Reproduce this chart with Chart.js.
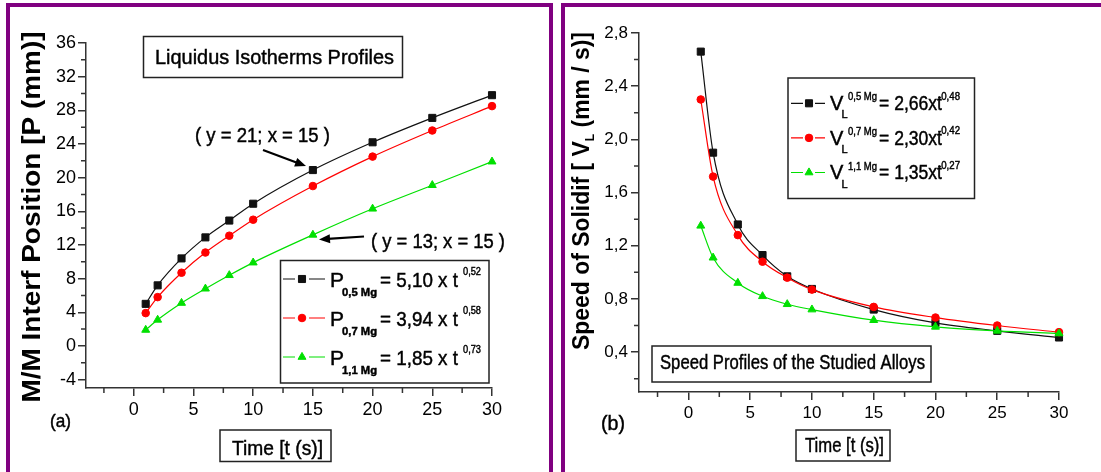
<!DOCTYPE html>
<html>
<head>
<meta charset="utf-8">
<script src="https://cdn.jsdelivr.net/npm/chart.js@4.4.0/dist/chart.umd.min.js"></script>
<style>
  html, body { margin: 0; padding: 0; background: #fff; overflow: hidden; }
  body { width: 1101px; height: 472px; position: relative; }
  canvas { position: absolute; top: 0; }
  #chartA { left: 0; }
  #chartB { left: 560px; }
  .frame { position: absolute; border: 4px solid #800080; box-sizing: border-box; }
  #frameA { left: 6px; top: 3px; width: 547px; height: 520px; }
  #frameB { left: 561px; top: 3px; width: 600px; height: 520px; }
</style>
</head>
<body>
<div class="frame" id="frameA"></div>
<div class="frame" id="frameB"></div>
<canvas id="chartA" width="556" height="472"></canvas>
<canvas id="chartB" width="541" height="472"></canvas>
<script>
// time values (s), shared by both panels
const time = [1, 2, 4, 6, 8, 10, 15, 20, 25, 30];

// (a) liquidus isotherm position P (mm)
const posMg05 = [5.0, 7.2, 10.4, 12.9, 14.9, 16.9, 20.9, 24.2, 27.1, 29.8];
const posMg07 = [3.9, 5.8, 8.7, 11.1, 13.1, 15.0, 19.0, 22.5, 25.6, 28.5];
const posMg11 = [1.9, 3.1, 5.1, 6.8, 8.4, 9.9, 13.2, 16.3, 19.1, 21.9];

// (b) speed of solidification VL (mm/s)
const speedMg05 = [2.66, 1.90, 1.36, 1.13, 0.97, 0.875, 0.72, 0.62, 0.56, 0.51];
const speedMg07 = [2.30, 1.72, 1.28, 1.08, 0.96, 0.87, 0.74, 0.66, 0.60, 0.55];
const speedMg11 = [1.35, 1.11, 0.92, 0.82, 0.76, 0.72, 0.64, 0.59, 0.56, 0.54];

// minor tick positions
const xMinor = [-2.5, 2.5, 7.5, 12.5, 17.5, 22.5, 27.5];
const yMinorA = [-2, 2, 6, 10, 14, 18, 22, 26, 30, 34];
const yMinorB = [0.2, 0.6, 1.0, 1.4, 1.8, 2.2, 2.6];

const FAMILY = '"Liberation Sans", Arial, sans-serif';
const BLACK = '#111111';
const RED = '#ff0000';
const GREEN = '#00e000';
const AXIS = '#333333';

const pts = (ys) => time.map((t, i) => ({ x: t, y: ys[i] }));

function ds(label, ys, color, style, radius, order) {
    return {
        label: label,
        data: pts(ys),
        borderColor: color,
        backgroundColor: color,
        pointBackgroundColor: color,
        pointBorderColor: color,
        pointStyle: style,
        pointRadius: radius,
        pointBorderWidth: 1,
        borderWidth: 1.2,
        cubicInterpolationMode: 'monotone',
        clip: false,
        order: order
    };
}

function fontStr(size, bold) {
    return (bold ? 'bold ' : '') + size + 'px ' + FAMILY;
}

// text at x (left) / baseline y, optionally squeezed to a given width
function txt(ctx, s, x, y, size, opt) {
    opt = opt || {};
    ctx.save();
    ctx.font = fontStr(size, opt.bold);
    ctx.fillStyle = '#000';
    ctx.strokeStyle = '#000';
    ctx.lineWidth = 0.45;
    ctx.textAlign = 'left';
    ctx.textBaseline = 'alphabetic';
    const w = ctx.measureText(s).width;
    const sx = opt.width ? opt.width / w : 1;
    ctx.translate(x, y);
    ctx.scale(sx, 1);
    ctx.fillText(s, 0, 0);
    ctx.strokeText(s, 0, 0);
    ctx.restore();
}

// rotated axis title from pieces, fitted to a given length
function vtitle(ctx, parts, xBase, yCenter, len) {
    ctx.save();
    ctx.translate(xBase, yCenter);
    ctx.rotate(-Math.PI / 2);
    ctx.fillStyle = '#000';
    ctx.textBaseline = 'alphabetic';
    let w = 0;
    parts.forEach(p => { ctx.font = fontStr(p.size, p.bold); p.w = ctx.measureText(p.t).width; w += p.w; });
    ctx.scale(len / w, 1);
    let x = -w / 2;
    parts.forEach(p => { ctx.font = fontStr(p.size, p.bold); ctx.fillText(p.t, x, p.dy || 0); x += p.w; });
    ctx.restore();
}

function box(ctx, x1, y1, x2, y2) {
    ctx.save();
    ctx.strokeStyle = '#222';
    ctx.lineWidth = 1.5;
    ctx.strokeRect(x1, y1, x2 - x1, y2 - y1);
    ctx.restore();
}

function arrow(ctx, x1, y1, x2, y2) {
    const a = Math.atan2(y2 - y1, x2 - x1);
    const hl = 11, hw = 4.5;
    ctx.save();
    ctx.strokeStyle = '#000';
    ctx.fillStyle = '#000';
    ctx.lineWidth = 2.2;
    ctx.beginPath();
    ctx.moveTo(x1, y1);
    ctx.lineTo(x2 - Math.cos(a) * hl * 0.8, y2 - Math.sin(a) * hl * 0.8);
    ctx.stroke();
    ctx.beginPath();
    ctx.moveTo(x2, y2);
    ctx.lineTo(x2 - Math.cos(a) * hl - Math.sin(a) * hw, y2 - Math.sin(a) * hl + Math.cos(a) * hw);
    ctx.lineTo(x2 - Math.cos(a) * hl + Math.sin(a) * hw, y2 - Math.sin(a) * hl - Math.cos(a) * hw);
    ctx.closePath();
    ctx.fill();
    ctx.restore();
}

function marker(ctx, dset, x, y) {
    ctx.save();
    ctx.fillStyle = dset.backgroundColor;
    ctx.strokeStyle = dset.borderColor;
    ctx.lineWidth = 1;
    Chart.helpers.drawPoint(ctx, { pointStyle: dset.pointStyle, radius: dset.pointRadius, rotation: 0, borderWidth: 1 }, x, y);
    ctx.restore();
}

// legend sample: line - marker - line
function sample(ctx, dset, x1, xm, x2, y, gap) {
    ctx.save();
    ctx.strokeStyle = dset.borderColor;
    ctx.lineWidth = 1.2;
    ctx.beginPath();
    ctx.moveTo(x1, y); ctx.lineTo(xm - gap, y);
    ctx.moveTo(xm + gap, y); ctx.lineTo(x2, y);
    ctx.stroke();
    ctx.restore();
    marker(ctx, dset, xm, y);
}

function minorTicks(chart, id, values, len) {
    const s = chart.scales[id];
    const ctx = chart.ctx;
    ctx.save();
    ctx.strokeStyle = AXIS;
    ctx.lineWidth = 1.5;
    ctx.beginPath();
    values.forEach(v => {
        const p = s.getPixelForValue(v);
        if (s.isHorizontal()) { ctx.moveTo(p, s.top); ctx.lineTo(p, s.top + len); }
        else { ctx.moveTo(s.right, p); ctx.lineTo(s.right - len, p); }
    });
    ctx.stroke();
    ctx.restore();
}

function axes(xMin, xMax, yMin, yMax, yStep, yWidth, tickSize, yFmt, yPad) {
    const common = {
        grid: { drawOnChartArea: false, tickLength: 8, color: AXIS, lineWidth: 1.5 },
        border: { color: AXIS, width: 1.5 }
    };
    return {
        x: Object.assign({}, common, {
            type: 'linear', min: xMin, max: xMax,
            ticks: { stepSize: 5, includeBounds: false, color: '#000', padding: 3, maxRotation: 0, font: { family: FAMILY, size: tickSize } },
            afterFit: (s) => { s.height = 30; }
        }),
        y: Object.assign({}, common, {
            min: yMin, max: yMax,
            ticks: { stepSize: yStep, includeBounds: false, color: '#000', padding: yPad, font: { family: FAMILY, size: tickSize }, callback: yFmt },
            afterFit: (s) => { s.width = yWidth; }
        })
    };
}

// ---------- panel (a) ----------
const dsA = [
    ds('P 0,5 Mg', posMg05, BLACK, 'rect', 5, 3),
    ds('P 0,7 Mg', posMg07, RED, 'circle', 3.8, 2),
    ds('P 1,1 Mg', posMg11, GREEN, 'triangle', 4.6, 1)
];
const legendA = [
    { sub: '0,5 Mg', main: '= 5,10 x t', sup: '0,52' },
    { sub: '0,7 Mg', main: '= 3,94 x t', sup: '0,58' },
    { sub: '1,1 Mg', main: '= 1,85 x t', sup: '0,73' }
];

const decorA = {
    id: 'decorA',
    afterDraw(chart) {
        const ctx = chart.ctx;
        minorTicks(chart, 'x', xMinor, 5);
        minorTicks(chart, 'y', yMinorA, 5);

        vtitle(ctx, [{ t: 'M/M Interf Position [P (mm)]', size: 25, bold: true }], 40, 217, 371);

        box(ctx, 143.5, 36.5, 402.5, 77.5);
        txt(ctx, 'Liquidus Isotherms Profiles', 155, 64, 21, { width: 239 });

        txt(ctx, '( y = 21; x = 15 )', 195, 142, 20, { width: 135 });
        arrow(ctx, 263, 150, 306, 166);
        txt(ctx, '( y = 13; x = 15 )', 371, 248, 20, { width: 134 });
        arrow(ctx, 364, 236.5, 319, 239.5);

        box(ctx, 280.5, 260.5, 489, 383);
        legendA.forEach((r, i) => {
            const c = 279 + i * 39;
            sample(ctx, dsA[i], 283, 302, 325, c, 7);
            txt(ctx, 'P', 330, c + 7.5, 21);
            txt(ctx, r.sub, 342, c + 16.5, 11, { bold: true, width: 35 });
            txt(ctx, r.main, 380, c + 7.5, 21, { width: 78 });
            txt(ctx, r.sup, 463, c - 4, 11, { width: 18 });
        });

        txt(ctx, '(a)', 50, 427, 19, { width: 21 });
        box(ctx, 220, 430, 331, 461.5);
        txt(ctx, 'Time [t (s)]', 232, 455, 21, { width: 91 });
    }
};

new Chart(document.getElementById('chartA'), {
    type: 'line',
    data: { datasets: dsA },
    options: {
        responsive: false,
        animation: false,
        events: [],
        layout: { padding: { left: 0, right: 64, top: 43, bottom: 54 } },
        plugins: { legend: { display: false }, tooltip: { enabled: false } },
        scales: axes(-4, 30, -5, 36, 4, 86, 18, (v) => v, 2)
    },
    plugins: [decorA]
});

// ---------- panel (b) ----------
const OFFSET_B = 560;
const dsB = [
    ds('VL 0,5 Mg', speedMg05, BLACK, 'rect', 5, 3),
    ds('VL 0,7 Mg', speedMg07, RED, 'circle', 3.8, 2),
    ds('VL 1,1 Mg', speedMg11, GREEN, 'triangle', 4.6, 1)
];
const legendB = [
    { sup: '0,5 Mg', main: '= 2,66xt', exp: '-0,48' },
    { sup: '0,7 Mg', main: '= 2,30xt', exp: '-0,42' },
    { sup: '1,1 Mg', main: '= 1,35xt', exp: '-0,27' }
];

const decorB = {
    id: 'decorB',
    afterDraw(chart) {
        const ctx = chart.ctx;
        minorTicks(chart, 'x', xMinor, 5);
        minorTicks(chart, 'y', yMinorB, 5);

        ctx.save();
        ctx.translate(-OFFSET_B, 0);

        vtitle(ctx, [
            { t: 'Speed of Solidif [ V', size: 23, bold: true },
            { t: 'L', size: 12, bold: true, dy: 5 },
            { t: ' (mm / s)]', size: 23, bold: true }
        ], 589, 191, 318);

        box(ctx, 788, 78, 974.5, 198.5);
        legendB.forEach((r, i) => {
            const c = 103.3 + i * 34.6;
            sample(ctx, dsB[i], 791, 809, 825, c, 6);
            txt(ctx, 'V', 830, c + 6.7, 20);
            txt(ctx, 'L', 841.5, c + 15, 11);
            txt(ctx, r.sup, 848, c - 3, 11, { width: 29 });
            txt(ctx, r.main, 879, c + 6.7, 20, { width: 63 });
            txt(ctx, r.exp, 938, c - 3.5, 11, { width: 22 });
        });

        box(ctx, 652, 346, 931, 382);
        txt(ctx, 'Speed Profiles of the Studied Alloys', 660, 369, 20, { width: 265 });

        txt(ctx, '(b)', 601, 430, 21, { width: 24 });
        box(ctx, 796, 430, 890, 461);
        txt(ctx, 'Time [t (s)]', 805, 452, 20, { width: 79 });

        ctx.restore();
    }
};

new Chart(document.getElementById('chartB'), {
    type: 'line',
    data: { datasets: dsB },
    options: {
        responsive: false,
        animation: false,
        events: [],
        layout: { padding: { left: 0, right: 42, top: 33, bottom: 50 } },
        plugins: { legend: { display: false }, tooltip: { enabled: false } },
        scales: axes(-4, 30, 0.1, 2.8, 0.4, 79, 17, (v) => v.toFixed(1).replace('.', ','), 3)
    },
    plugins: [decorB]
});
</script>
</body>
</html>
